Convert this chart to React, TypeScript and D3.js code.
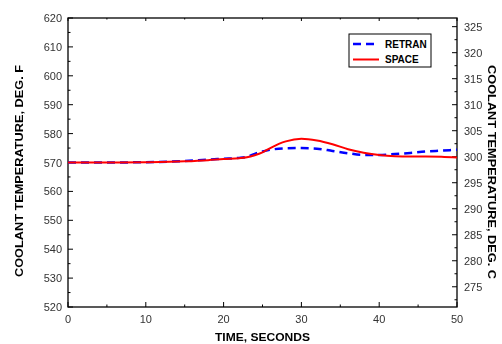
import { useRef, useEffect } from 'react';
import * as d3 from 'd3';

// time, seconds
const timeSec = [0, 5, 10, 15, 18, 20, 22, 23, 24, 25, 26, 28, 30, 32, 34, 36, 38, 40, 42, 44, 46, 48, 50];
// SPACE (red, solid), deg F
const spaceTemp = [570, 570, 570.1, 570.4, 570.8, 571.2, 571.5, 571.8, 572.5, 573.5, 575, 577.3, 578.2, 577.6, 576.3, 574.6, 573.4, 572.6, 572.2, 572.1, 572.1, 572.0, 571.7];
// RETRAN (blue, dashed), deg F
const retranTemp = [570, 570, 570.1, 570.5, 571, 571.3, 571.6, 572, 573, 573.8, 574.4, 574.9, 575, 574.8, 574, 573.2, 572.6, 572.6, 572.9, 573.3, 573.8, 574.1, 574.4];

const xTicks = [0, 10, 20, 30, 40, 50];
const yTicksF = [520, 530, 540, 550, 560, 570, 580, 590, 600, 610, 620];
const yTicksC = [275, 280, 285, 290, 295, 300, 305, 310, 315, 320, 325];

const legendItems = [
    { name: 'RETRAN', color: '#0000ff', dash: '8,5', width: 2.5 },
    { name: 'SPACE', color: '#ff0000', dash: null, width: 2 },
];

export default function App() {
    const svgRef = useRef<SVGSVGElement>(null);

    useEffect(() => {
        if (!svgRef.current) return;
        const width = 502;
        const height = 344;
        const margin = { top: 18, right: 45, bottom: 37, left: 68 };
        const cw = width - margin.left - margin.right;
        const ch = height - margin.top - margin.bottom;

        d3.select(svgRef.current).selectAll('*').remove();
        const svg = d3.select(svgRef.current)
            .attr('width', width)
            .attr('height', height)
            .style('font-family', '"Liberation Sans", Arial, sans-serif');

        const g = svg.append('g').attr('transform', `translate(${margin.left},${margin.top})`);

        const x = d3.scaleLinear().domain([0, 50]).range([0, cw]);
        const yF = d3.scaleLinear().domain([520, 620]).range([ch, 0]);
        const yC = d3.scaleLinear().domain([(520 - 32) * 5 / 9, (620 - 32) * 5 / 9]).range([ch, 0]);

        // frame
        g.append('rect')
            .attr('width', cw).attr('height', ch)
            .attr('fill', 'none').attr('stroke', '#000').attr('stroke-width', 1.3);

        const tickColor = '#000';
        const labelColor = '#333';
        // x ticks (bottom + top), inward
        d3.range(0, 51, 5).forEach(t => {
            const major = t % 10 === 0;
            const len = major ? 5 : 2.5;
            g.append('line').attr('x1', x(t)).attr('x2', x(t)).attr('y1', ch).attr('y2', ch - len)
                .attr('stroke', tickColor).attr('stroke-width', 1);
            g.append('line').attr('x1', x(t)).attr('x2', x(t)).attr('y1', 0).attr('y2', len * 0.6)
                .attr('stroke', tickColor).attr('stroke-width', 1);
        });
        g.selectAll('.xl').data(xTicks).enter().append('text')
            .attr('x', d => x(d)).attr('y', ch + 16)
            .attr('text-anchor', 'middle').attr('fill', labelColor).style('font-size', '11px')
            .text(d => d);

        // left ticks
        d3.range(520, 621, 5).forEach(v => {
            const major = v % 10 === 0;
            g.append('line').attr('x1', 0).attr('x2', major ? 5 : 2.5).attr('y1', yF(v)).attr('y2', yF(v))
                .attr('stroke', tickColor).attr('stroke-width', 1);
        });
        g.selectAll('.yl').data(yTicksF).enter().append('text')
            .attr('x', -6).attr('y', d => yF(d) + 4)
            .attr('text-anchor', 'end').attr('fill', labelColor).style('font-size', '11px')
            .text(d => d);

        // right ticks (deg C)
        d3.range(272.5, 327, 2.5).forEach(v => {
            const major = v % 5 === 0;
            g.append('line').attr('x1', cw).attr('x2', cw - (major ? 5 : 2.5)).attr('y1', yC(v)).attr('y2', yC(v))
                .attr('stroke', tickColor).attr('stroke-width', 1);
        });
        g.selectAll('.yr').data(yTicksC).enter().append('text')
            .attr('x', cw + 7).attr('y', d => yC(d) + 4)
            .attr('text-anchor', 'start').attr('fill', labelColor).style('font-size', '11px')
            .text(d => d);

        // lines
        const line = d3.line<number>()
            .x((_, i) => x(timeSec[i]))
            .y(d => yF(d))
            .curve(d3.curveMonotoneX);

        g.append('path').datum(retranTemp)
            .attr('fill', 'none').attr('stroke', '#0000ff').attr('stroke-width', 2.5)
            .attr('stroke-dasharray', '8,5').attr('d', line);

        g.append('path').datum(spaceTemp)
            .attr('fill', 'none').attr('stroke', '#ff0000').attr('stroke-width', 2)
            .attr('d', line);

        // axis titles
        svg.append('text')
            .attr('transform', `translate(23,171) rotate(-90)`)
            .attr('text-anchor', 'middle').attr('font-weight', 'bold').style('font-size', '11px')
            .attr('textLength', 212).attr('lengthAdjust', 'spacingAndGlyphs')
            .text('COOLANT TEMPERATURE, DEG. F');
        svg.append('text')
            .attr('transform', `translate(488,172) rotate(90)`)
            .attr('text-anchor', 'middle').attr('font-weight', 'bold').style('font-size', '11px')
            .attr('textLength', 214).attr('lengthAdjust', 'spacingAndGlyphs')
            .text('COOLANT TEMPERATURE, DEG. C');
        svg.append('text')
            .attr('x', 262.5).attr('y', 341)
            .attr('text-anchor', 'middle').attr('font-weight', 'bold').style('font-size', '11px')
            .attr('textLength', 95).attr('lengthAdjust', 'spacingAndGlyphs')
            .text('TIME, SECONDS');

        // legend
        const legend = svg.append('g').attr('transform', 'translate(349,34)');
        legend.append('rect').attr('width', 82).attr('height', 33)
            .attr('fill', '#fff').attr('stroke', '#000').attr('stroke-width', 1);
        legendItems.forEach((item, i) => {
            const yy = 10 + i * 15.5;
            legend.append('line')
                .attr('x1', 4).attr('x2', 30).attr('y1', yy).attr('y2', yy)
                .attr('stroke', item.color).attr('stroke-width', item.width)
                .attr('stroke-dasharray', item.dash);
            legend.append('text')
                .attr('x', 36).attr('y', yy + 3.5)
                .attr('font-weight', 'bold').style('font-size', '10px')
                .text(item.name);
        });
    }, []);

    return (
        <div style={{ position: 'fixed', left: 0, top: 0 }}>
            <svg ref={svgRef}></svg>
        </div>
    );
}
